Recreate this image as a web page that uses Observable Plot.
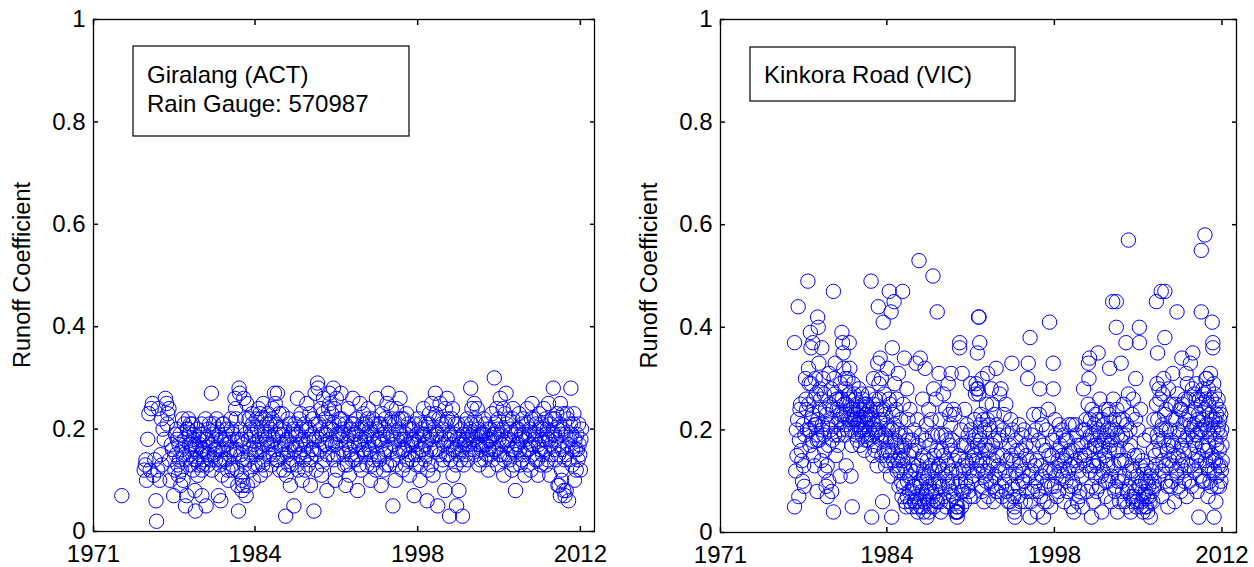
<!DOCTYPE html>
<html>
<head>
<meta charset="utf-8">
<script src="https://cdn.jsdelivr.net/npm/d3@7"></script>
<script src="https://cdn.jsdelivr.net/npm/@observablehq/plot@0.6"></script>
<style>
  html, body { margin: 0; padding: 0; background: #fff; }
  #wrap { position: relative; width: 1254px; height: 567px; overflow: hidden; }
  #wrap svg { position: absolute; top: 0; }
</style>
</head>
<body>
<div id="wrap"></div>
<script>
// ---- tick definitions ----
const xDomain = [1971, 2013.5];
const xTicks = [1971, 1984.7, 1998.5, 2012.3];
const xTickLabels = ["1971", "1984", "1998", "2012"];
const yTicks = [0, 0.2, 0.4, 0.6, 0.8, 1];
const yTickLabels = ["0", "0.2", "0.4", "0.6", "0.8", "1"];
const yTitle = "Runoff Coefficient";
const giralangLabel = ["Giralang (ACT)", "Rain Gauge: 570987"];
const kinkoraLabel = ["Kinkora Road (VIC)"];

// ---- Giralang (ACT) : [decimal year, runoff coefficient] ----
const giralangPoints = [
[1973.4,0.07],
[1975.3,0.12],[1975.4,0.13],[1975.5,0.10],[1975.6,0.18],[1975.7,0.23],[1975.8,0.12],[1975.9,0.24],[1975.45,0.14],
[1976.0,0.25],[1976.1,0.11],[1976.2,0.14],[1976.3,0.06],[1976.35,0.02],[1976.5,0.24],[1976.6,0.10],[1976.7,0.15],[1976.8,0.13],[1976.9,0.20],[1976.45,0.12],[1976.75,0.22],
[1977.0,0.18],[1977.1,0.26],[1977.2,0.25],[1977.3,0.23],[1977.4,0.24],[1977.5,0.10],[1977.6,0.17],[1977.7,0.16],[1977.8,0.07],[1977.9,0.12],[1977.95,0.19],[1977.25,0.21],[1977.45,0.14],
[1978.0,0.15],[1978.1,0.18],[1978.2,0.11],[1978.3,0.14],[1978.4,0.09],[1978.5,0.16],[1978.6,0.10],[1978.7,0.21],[1978.8,0.05],[1978.9,0.07],
[1978.05,0.20],[1978.15,0.13],[1978.25,0.17],[1978.35,0.19],[1978.45,0.12],[1978.55,0.22],[1978.65,0.15],[1978.75,0.18],[1978.85,0.14],[1978.95,0.20],
[1979.0,0.20],[1979.05,0.22],[1979.1,0.19],[1979.2,0.15],[1979.25,0.13],[1979.3,0.17],[1979.4,0.21],[1979.45,0.12],[1979.5,0.18],[1979.6,0.14],[1979.65,0.04],[1979.7,0.16],[1979.8,0.20],[1979.85,0.11],[1979.9,0.13],
[1979.15,0.17],[1979.35,0.16],[1979.55,0.19],[1979.75,0.14],[1979.95,0.18],[1979.22,0.21],[1979.62,0.17],[1979.6,0.08],
[1980.0,0.17],[1980.1,0.15],[1980.15,0.21],[1980.2,0.12],[1980.3,0.19],[1980.35,0.16],[1980.4,0.14],[1980.5,0.22],[1980.55,0.05],[1980.6,0.18],[1980.7,0.13],[1980.75,0.20],[1980.8,0.15],[1980.9,0.17],
[1980.05,0.19],[1980.25,0.16],[1980.45,0.18],[1980.65,0.15],[1980.85,0.21],[1980.95,0.14],[1980.28,0.13],[1980.2,0.07],
[1981.0,0.27],[1981.05,0.12],[1981.1,0.19],[1981.2,0.21],[1981.3,0.16],[1981.35,0.14],[1981.4,0.18],[1981.5,0.20],[1981.6,0.07],[1981.7,0.13],[1981.8,0.06],[1981.9,0.11],
[1981.15,0.17],[1981.25,0.15],[1981.45,0.22],[1981.55,0.16],[1981.65,0.19],[1981.75,0.14],[1981.85,0.18],[1981.95,0.21],
[1982.0,0.16],[1982.1,0.14],[1982.2,0.19],[1982.3,0.17],[1982.4,0.12],[1982.45,0.10],[1982.5,0.18],[1982.6,0.15],[1982.7,0.20],[1982.8,0.13],[1982.9,0.16],
[1982.05,0.21],[1982.15,0.18],[1982.25,0.14],[1982.35,0.20],[1982.55,0.16],[1982.65,0.22],[1982.75,0.12],[1982.85,0.19],[1982.95,0.15],
[1983.0,0.26],[1983.05,0.24],[1983.1,0.22],[1983.2,0.18],[1983.25,0.09],[1983.3,0.04],[1983.35,0.28],[1983.4,0.27],[1983.5,0.15],[1983.55,0.11],[1983.6,0.08],[1983.7,0.17],[1983.75,0.26],[1983.8,0.13],[1983.9,0.19],[1983.95,0.07],
[1983.15,0.16],[1983.45,0.20],[1983.65,0.14],[1983.85,0.22],[1983.18,0.12],[1983.58,0.18],[1983.62,0.10],[1983.7,0.09],
[1984.0,0.25],[1984.05,0.09],[1984.1,0.14],[1984.2,0.22],[1984.25,0.16],[1984.3,0.12],[1984.4,0.19],[1984.5,0.21],[1984.55,0.10],[1984.6,0.17],[1984.7,0.13],[1984.8,0.15],[1984.9,0.20],
[1984.15,0.18],[1984.35,0.15],[1984.45,0.23],[1984.65,0.19],[1984.75,0.16],[1984.85,0.22],[1984.95,0.13],[1984.32,0.20],
[1985.0,0.24],[1985.1,0.18],[1985.15,0.11],[1985.2,0.22],[1985.3,0.16],[1985.4,0.25],[1985.45,0.14],[1985.5,0.19],[1985.6,0.12],[1985.7,0.21],[1985.75,0.17],[1985.8,0.23],[1985.9,0.15],
[1985.05,0.16],[1985.25,0.20],[1985.35,0.13],[1985.55,0.22],[1985.65,0.18],[1985.85,0.19],[1985.95,0.21],[1985.48,0.17],[1985.12,0.23],
[1986.0,0.20],[1986.1,0.13],[1986.2,0.24],[1986.3,0.18],[1986.35,0.27],[1986.4,0.16],[1986.5,0.21],[1986.6,0.27],[1986.65,0.14],[1986.7,0.19],[1986.8,0.12],[1986.9,0.17],
[1986.05,0.17],[1986.15,0.22],[1986.25,0.15],[1986.45,0.19],[1986.55,0.14],[1986.75,0.23],[1986.85,0.20],[1986.95,0.16],[1986.42,0.25],
[1987.0,0.23],[1987.1,0.15],[1987.2,0.20],[1987.3,0.03],[1987.35,0.11],[1987.4,0.18],[1987.5,0.22],[1987.55,0.13],[1987.6,0.16],[1987.7,0.09],[1987.8,0.19],[1987.9,0.14],
[1987.05,0.19],[1987.15,0.12],[1987.25,0.17],[1987.45,0.15],[1987.65,0.21],[1987.75,0.13],[1987.85,0.17],[1987.95,0.20],
[1988.0,0.05],[1988.1,0.21],[1988.2,0.17],[1988.3,0.26],[1988.35,0.12],[1988.4,0.19],[1988.5,0.15],[1988.6,0.23],[1988.7,0.10],[1988.75,0.18],[1988.8,0.14],[1988.9,0.21],
[1988.05,0.16],[1988.15,0.19],[1988.25,0.13],[1988.45,0.22],[1988.55,0.17],[1988.65,0.20],[1988.85,0.16],[1988.95,0.12],
[1989.0,0.17],[1989.1,0.25],[1989.2,0.13],[1989.3,0.20],[1989.4,0.09],[1989.5,0.16],[1989.6,0.22],[1989.7,0.04],[1989.75,0.18],[1989.8,0.27],[1989.9,0.12],
[1989.05,0.20],[1989.15,0.15],[1989.25,0.18],[1989.35,0.23],[1989.45,0.14],[1989.55,0.19],[1989.65,0.16],[1989.85,0.21],[1989.95,0.15],
[1990.0,0.29],[1990.05,0.28],[1990.1,0.21],[1990.2,0.16],[1990.3,0.24],[1990.35,0.11],[1990.4,0.19],[1990.5,0.26],[1990.6,0.14],[1990.65,0.22],[1990.7,0.17],[1990.8,0.08],[1990.9,0.20],
[1990.15,0.18],[1990.25,0.20],[1990.45,0.23],[1990.55,0.17],[1990.75,0.19],[1990.85,0.15],[1990.95,0.24],[1990.42,0.13],
[1991.0,0.27],[1991.05,0.25],[1991.1,0.18],[1991.2,0.23],[1991.3,0.15],[1991.35,0.28],[1991.4,0.21],[1991.5,0.10],[1991.55,0.17],[1991.6,0.26],[1991.7,0.12],[1991.8,0.19],[1991.9,0.22],
[1991.15,0.20],[1991.25,0.17],[1991.45,0.24],[1991.65,0.19],[1991.75,0.15],[1991.85,0.21],[1991.95,0.18],[1991.38,0.14],
[1992.0,0.27],[1992.1,0.16],[1992.2,0.20],[1992.3,0.13],[1992.4,0.09],[1992.5,0.18],[1992.6,0.24],[1992.7,0.11],[1992.8,0.15],[1992.9,0.21],
[1992.05,0.22],[1992.15,0.19],[1992.25,0.15],[1992.35,0.21],[1992.45,0.17],[1992.55,0.13],[1992.65,0.19],[1992.75,0.16],[1992.85,0.20],[1992.95,0.14],
[1993.0,0.26],[1993.1,0.19],[1993.2,0.14],[1993.3,0.22],[1993.4,0.08],[1993.5,0.17],[1993.6,0.25],[1993.7,0.12],[1993.75,0.20],[1993.8,0.16],[1993.9,0.23],
[1993.05,0.21],[1993.15,0.17],[1993.25,0.19],[1993.35,0.15],[1993.45,0.20],[1993.55,0.13],[1993.65,0.18],[1993.85,0.21],[1993.95,0.16],
[1994.0,0.18],[1994.1,0.21],[1994.2,0.13],[1994.3,0.24],[1994.4,0.16],[1994.5,0.10],[1994.6,0.19],[1994.7,0.22],[1994.8,0.14],[1994.9,0.17],
[1994.05,0.15],[1994.15,0.19],[1994.25,0.22],[1994.35,0.17],[1994.45,0.20],[1994.55,0.15],[1994.65,0.13],[1994.75,0.18],[1994.85,0.21],[1994.95,0.12],
[1995.0,0.26],[1995.1,0.15],[1995.2,0.21],[1995.3,0.18],[1995.4,0.09],[1995.5,0.23],[1995.6,0.12],[1995.7,0.20],[1995.8,0.16],[1995.9,0.25],
[1995.05,0.20],[1995.15,0.18],[1995.25,0.14],[1995.35,0.21],[1995.45,0.17],[1995.55,0.19],[1995.65,0.15],[1995.75,0.22],[1995.85,0.13],[1995.95,0.18],
[1996.0,0.27],[1996.1,0.13],[1996.2,0.19],[1996.3,0.22],[1996.4,0.05],[1996.5,0.17],[1996.6,0.10],[1996.7,0.24],[1996.8,0.15],[1996.9,0.20],
[1996.05,0.21],[1996.15,0.16],[1996.25,0.24],[1996.35,0.14],[1996.45,0.19],[1996.55,0.21],[1996.65,0.13],[1996.75,0.18],[1996.85,0.22],[1996.95,0.16],
[1997.0,0.26],[1997.1,0.18],[1997.2,0.12],[1997.3,0.22],[1997.4,0.16],[1997.5,0.19],[1997.6,0.14],[1997.7,0.21],[1997.8,0.11],
[1997.05,0.19],[1997.15,0.22],[1997.25,0.16],[1997.35,0.18],[1997.45,0.13],[1997.55,0.23],[1997.65,0.17],[1997.75,0.15],[1997.85,0.20],[1997.95,0.18],
[1998.0,0.17],[1998.1,0.20],[1998.2,0.07],[1998.3,0.15],[1998.4,0.13],[1998.5,0.22],[1998.6,0.18],[1998.7,0.10],[1998.8,0.16],[1998.9,0.19],
[1998.05,0.14],[1998.15,0.18],[1998.25,0.21],[1998.35,0.17],[1998.45,0.19],[1998.55,0.15],[1998.65,0.21],[1998.75,0.13],[1998.85,0.20],[1998.95,0.16],
[1999.0,0.24],[1999.1,0.14],[1999.2,0.21],[1999.3,0.06],[1999.35,0.12],[1999.4,0.18],[1999.5,0.23],[1999.6,0.16],[1999.7,0.25],[1999.8,0.11],[1999.9,0.20],
[1999.05,0.19],[1999.15,0.17],[1999.25,0.15],[1999.45,0.21],[1999.55,0.19],[1999.65,0.13],[1999.75,0.18],[1999.85,0.22],[1999.95,0.16],
[2000.0,0.27],[2000.1,0.19],[2000.2,0.05],[2000.3,0.22],[2000.35,0.15],[2000.4,0.25],[2000.5,0.13],[2000.6,0.20],[2000.7,0.17],[2000.8,0.08],[2000.9,0.21],
[2000.05,0.23],[2000.15,0.16],[2000.25,0.19],[2000.45,0.18],[2000.55,0.21],[2000.65,0.14],[2000.75,0.19],[2000.85,0.24],[2000.95,0.15],
[2001.0,0.26],[2001.1,0.18],[2001.2,0.03],[2001.3,0.14],[2001.4,0.22],[2001.5,0.11],[2001.6,0.19],[2001.7,0.16],[2001.8,0.05],[2001.9,0.21],
[2001.05,0.22],[2001.15,0.15],[2001.25,0.19],[2001.35,0.17],[2001.45,0.24],[2001.55,0.16],[2001.65,0.21],[2001.75,0.13],[2001.85,0.18],[2001.95,0.15],
[2002.0,0.08],[2002.1,0.17],[2002.2,0.20],[2002.3,0.03],[2002.4,0.13],[2002.5,0.18],[2002.6,0.15],[2002.7,0.22],[2002.8,0.19],[2002.9,0.16],
[2002.05,0.18],[2002.15,0.14],[2002.25,0.16],[2002.35,0.19],[2002.45,0.17],[2002.55,0.21],[2002.65,0.18],[2002.75,0.14],[2002.85,0.17],[2002.95,0.20],
[2003.0,0.28],[2003.1,0.24],[2003.2,0.18],[2003.3,0.25],[2003.4,0.15],[2003.5,0.21],[2003.6,0.17],[2003.7,0.13],[2003.8,0.19],[2003.9,0.16],
[2003.05,0.21],[2003.15,0.19],[2003.25,0.16],[2003.35,0.22],[2003.45,0.18],[2003.55,0.24],[2003.65,0.20],[2003.75,0.17],[2003.85,0.14],[2003.95,0.19],
[2004.0,0.19],[2004.1,0.22],[2004.2,0.14],[2004.3,0.17],[2004.4,0.20],[2004.5,0.12],[2004.6,0.18],[2004.7,0.15],[2004.8,0.23],[2004.9,0.16],
[2004.05,0.17],[2004.15,0.19],[2004.25,0.21],[2004.35,0.15],[2004.45,0.18],[2004.55,0.16],[2004.65,0.20],[2004.75,0.18],[2004.85,0.14],[2004.95,0.19],
[2005.0,0.30],[2005.1,0.21],[2005.2,0.24],[2005.3,0.13],[2005.4,0.18],[2005.5,0.26],[2005.6,0.15],[2005.7,0.20],[2005.8,0.11],[2005.9,0.23],
[2005.05,0.19],[2005.15,0.16],[2005.25,0.20],[2005.35,0.22],[2005.45,0.15],[2005.55,0.19],[2005.65,0.17],[2005.75,0.24],[2005.85,0.14],[2005.95,0.18],
[2006.0,0.27],[2006.1,0.17],[2006.2,0.22],[2006.3,0.14],[2006.4,0.19],[2006.5,0.12],[2006.6,0.24],[2006.7,0.16],[2006.8,0.08],[2006.9,0.20],
[2006.05,0.21],[2006.15,0.15],[2006.25,0.18],[2006.35,0.20],[2006.45,0.16],[2006.55,0.22],[2006.65,0.13],[2006.75,0.19],[2006.85,0.15],[2006.95,0.17],
[2007.0,0.17],[2007.1,0.23],[2007.2,0.13],[2007.3,0.19],[2007.4,0.21],[2007.5,0.15],[2007.6,0.11],[2007.7,0.18],[2007.8,0.24],[2007.9,0.16],
[2007.05,0.20],[2007.15,0.16],[2007.25,0.18],[2007.35,0.14],[2007.45,0.22],[2007.55,0.19],[2007.65,0.16],[2007.75,0.21],[2007.85,0.13],[2007.95,0.19],
[2008.0,0.20],[2008.1,0.12],[2008.2,0.25],[2008.3,0.17],[2008.4,0.22],[2008.5,0.14],[2008.6,0.19],[2008.7,0.11],[2008.8,0.23],[2008.9,0.16],
[2008.05,0.17],[2008.15,0.22],[2008.25,0.15],[2008.35,0.19],[2008.45,0.18],[2008.55,0.21],[2008.65,0.14],[2008.75,0.17],[2008.85,0.20],[2008.95,0.13],
[2009.0,0.21],[2009.1,0.15],[2009.2,0.24],[2009.3,0.18],[2009.4,0.13],[2009.5,0.20],[2009.6,0.25],[2009.7,0.11],[2009.8,0.17],[2009.9,0.22],
[2009.05,0.18],[2009.15,0.20],[2009.25,0.16],[2009.35,0.22],[2009.45,0.19],[2009.55,0.14],[2009.65,0.18],[2009.75,0.21],[2009.85,0.15],[2009.95,0.19],
[2010.0,0.28],[2010.1,0.19],[2010.2,0.14],[2010.3,0.23],[2010.4,0.09],[2010.5,0.17],[2010.6,0.25],[2010.7,0.12],[2010.8,0.20],[2010.9,0.08],
[2010.05,0.16],[2010.15,0.22],[2010.25,0.18],[2010.35,0.20],[2010.45,0.15],[2010.55,0.21],[2010.65,0.19],[2010.75,0.16],[2010.85,0.23],[2010.95,0.14],
[2010.5,0.09],[2010.6,0.07],[2010.7,0.10],
[2011.0,0.07],[2011.1,0.15],[2011.2,0.22],[2011.3,0.06],[2011.4,0.18],[2011.5,0.28],[2011.6,0.13],[2011.7,0.21],[2011.8,0.10],[2011.9,0.16],
[2011.05,0.19],[2011.15,0.23],[2011.25,0.17],[2011.35,0.14],[2011.45,0.21],[2011.55,0.19],[2011.65,0.16],[2011.75,0.23],[2011.85,0.18],[2011.95,0.12],[2011.1,0.08],
[2012.0,0.19],[2012.1,0.14],[2012.2,0.17],[2012.3,0.12],[2012.4,0.20],
[2012.05,0.16],[2012.15,0.21],[2012.25,0.15],[2012.35,0.18]
];

// ---- Kinkora Road (VIC) : [decimal year, runoff coefficient] ----
const kinkoraPoints = [
[1977.1,0.05],[1977.1,0.37],[1977.4,0.44],[1977.2,0.12],[1977.3,0.15],[1977.35,0.22],[1977.5,0.18],[1977.6,0.25],[1977.7,0.14],[1977.75,0.10],[1977.8,0.21],[1977.9,0.09],[1977.45,0.07],[1977.65,0.16],
[1977.25,0.20],[1977.55,0.24],[1977.85,0.13],[1977.95,0.19],
[1978.0,0.30],[1978.1,0.24],[1978.2,0.49],[1978.25,0.32],[1978.3,0.29],[1978.35,0.20],[1978.4,0.39],[1978.45,0.36],[1978.5,0.22],[1978.55,0.18],[1978.6,0.37],[1978.7,0.26],[1978.75,0.13],[1978.8,0.30],[1978.85,0.21],[1978.9,0.19],[1978.95,0.08],
[1978.05,0.26],[1978.15,0.20],[1978.28,0.25],[1978.38,0.17],[1978.48,0.29],[1978.58,0.23],[1978.65,0.15],[1978.78,0.21],[1978.88,0.27],[1978.98,0.18],
[1979.0,0.42],[1979.05,0.40],[1979.1,0.33],[1979.15,0.24],[1979.2,0.28],[1979.3,0.14],[1979.35,0.36],[1979.4,0.21],[1979.5,0.19],[1979.55,0.27],[1979.6,0.12],[1979.7,0.09],[1979.75,0.23],[1979.8,0.07],[1979.9,0.17],[1979.95,0.31],
[1979.02,0.22],[1979.12,0.18],[1979.25,0.26],[1979.38,0.20],[1979.45,0.30],[1979.58,0.16],[1979.65,0.24],[1979.78,0.13],[1979.85,0.21],[1979.92,0.10],
[1980.0,0.25],[1980.1,0.22],[1980.15,0.08],[1980.2,0.18],[1980.3,0.47],[1980.3,0.04],[1980.35,0.30],[1980.4,0.27],[1980.5,0.15],[1980.55,0.21],[1980.6,0.24],[1980.7,0.19],[1980.8,0.26],[1980.85,0.11],[1980.9,0.23],
[1980.05,0.20],[1980.12,0.28],[1980.25,0.24],[1980.38,0.19],[1980.45,0.33],[1980.58,0.26],[1980.65,0.17],[1980.75,0.22],[1980.88,0.29],[1980.95,0.20],
[1981.0,0.39],[1981.05,0.37],[1981.1,0.35],[1981.15,0.32],[1981.2,0.25],[1981.25,0.21],[1981.3,0.28],[1981.35,0.13],[1981.4,0.23],[1981.5,0.30],[1981.55,0.26],[1981.6,0.37],[1981.65,0.32],[1981.7,0.22],[1981.75,0.11],[1981.8,0.20],[1981.9,0.24],[1981.85,0.05],
[1981.02,0.26],[1981.12,0.23],[1981.22,0.19],[1981.28,0.30],[1981.38,0.25],[1981.45,0.20],[1981.52,0.22],[1981.62,0.27],[1981.72,0.24],[1981.82,0.17],[1981.92,0.29],[1981.98,0.22],
[1982.0,0.27],[1982.1,0.22],[1982.15,0.19],[1982.2,0.25],[1982.3,0.23],[1982.35,0.21],[1982.4,0.28],[1982.5,0.17],[1982.55,0.24],[1982.6,0.20],[1982.7,0.26],[1982.8,0.22],[1982.85,0.16],[1982.9,0.25],
[1982.02,0.23],[1982.12,0.26],[1982.22,0.21],[1982.28,0.18],[1982.38,0.24],[1982.45,0.20],[1982.52,0.22],[1982.62,0.27],[1982.68,0.19],[1982.75,0.24],[1982.82,0.20],[1982.92,0.23],[1982.98,0.18],
[1983.0,0.21],[1983.05,0.23],[1983.1,0.19],[1983.2,0.27],[1983.3,0.24],[1983.4,0.49],[1983.45,0.03],[1983.5,0.22],[1983.55,0.15],[1983.6,0.30],[1983.7,0.17],[1983.75,0.26],[1983.8,0.20],[1983.9,0.13],[1983.95,0.33],
[1983.02,0.25],[1983.12,0.22],[1983.18,0.18],[1983.25,0.20],[1983.35,0.23],[1983.48,0.19],[1983.58,0.25],[1983.65,0.21],[1983.72,0.16],[1983.85,0.24],[1983.92,0.19],
[1984.0,0.44],[1984.05,0.29],[1984.1,0.22],[1984.15,0.34],[1984.2,0.18],[1984.25,0.30],[1984.3,0.15],[1984.35,0.06],[1984.4,0.41],[1984.45,0.24],[1984.5,0.27],[1984.55,0.19],[1984.6,0.13],[1984.7,0.21],[1984.75,0.32],[1984.8,0.16],[1984.9,0.47],[1984.95,0.25],
[1984.02,0.20],[1984.08,0.26],[1984.18,0.24],[1984.28,0.19],[1984.38,0.22],[1984.48,0.16],[1984.58,0.23],[1984.65,0.18],[1984.72,0.14],[1984.82,0.20],[1984.88,0.26],[1984.98,0.15],
[1985.0,0.11],[1985.05,0.43],[1985.1,0.03],[1985.15,0.36],[1985.2,0.23],[1985.25,0.14],[1985.3,0.45],[1985.35,0.29],[1985.4,0.18],[1985.5,0.26],[1985.55,0.12],[1985.6,0.20],[1985.65,0.31],[1985.7,0.09],[1985.8,0.15],[1985.85,0.22],[1985.9,0.17],[1985.95,0.07],
[1985.02,0.18],[1985.12,0.20],[1985.18,0.16],[1985.28,0.21],[1985.38,0.13],[1985.45,0.24],[1985.52,0.17],[1985.62,0.14],[1985.72,0.19],[1985.78,0.12],[1985.88,0.10],[1985.98,0.16],
[1986.0,0.47],[1986.05,0.25],[1986.1,0.13],[1986.15,0.34],[1986.2,0.06],[1986.25,0.19],[1986.3,0.05],[1986.35,0.28],[1986.4,0.10],[1986.45,0.22],[1986.5,0.15],[1986.55,0.08],[1986.6,0.24],[1986.7,0.12],[1986.75,0.05],[1986.8,0.18],[1986.9,0.09],[1986.95,0.20],
[1986.02,0.14],[1986.08,0.09],[1986.18,0.17],[1986.28,0.12],[1986.38,0.07],[1986.48,0.18],[1986.58,0.11],[1986.65,0.06],[1986.72,0.16],[1986.82,0.08],[1986.88,0.13],[1986.98,0.06],
[1987.0,0.16],[1987.05,0.06],[1987.1,0.33],[1987.15,0.07],[1987.2,0.22],[1987.25,0.04],[1987.3,0.13],[1987.35,0.53],[1987.4,0.10],[1987.45,0.34],[1987.5,0.05],[1987.55,0.19],[1987.6,0.08],[1987.65,0.26],[1987.7,0.15],[1987.75,0.04],[1987.8,0.11],[1987.85,0.32],[1987.9,0.07],[1987.95,0.21],
[1987.02,0.09],[1987.08,0.12],[1987.18,0.05],[1987.28,0.17],[1987.38,0.06],[1987.48,0.09],[1987.58,0.14],[1987.68,0.05],[1987.72,0.12],[1987.82,0.06],[1987.88,0.18],[1987.98,0.10],
[1988.0,0.03],[1988.05,0.14],[1988.1,0.06],[1988.15,0.24],[1988.2,0.09],[1988.25,0.17],[1988.3,0.05],[1988.35,0.22],[1988.4,0.12],[1988.5,0.50],[1988.5,0.07],[1988.55,0.28],[1988.6,0.15],[1988.7,0.10],[1988.75,0.26],[1988.8,0.06],[1988.85,0.43],[1988.9,0.19],[1988.95,0.13],
[1988.02,0.08],[1988.08,0.11],[1988.18,0.04],[1988.28,0.13],[1988.38,0.08],[1988.45,0.19],[1988.58,0.05],[1988.65,0.12],[1988.72,0.08],[1988.82,0.16],[1988.88,0.06],[1988.98,0.10],
[1989.0,0.31],[1989.05,0.09],[1989.1,0.22],[1989.15,0.04],[1989.2,0.16],[1989.3,0.12],[1989.35,0.27],[1989.4,0.07],[1989.5,0.19],[1989.55,0.24],[1989.6,0.14],[1989.7,0.10],[1989.75,0.29],[1989.8,0.06],[1989.9,0.17],[1989.95,0.21],
[1989.02,0.13],[1989.12,0.06],[1989.18,0.19],[1989.28,0.09],[1989.38,0.15],[1989.48,0.11],[1989.58,0.05],[1989.65,0.18],[1989.72,0.13],[1989.82,0.09],[1989.88,0.23],[1989.98,0.08],
[1990.0,0.31],[1990.05,0.12],[1990.1,0.18],[1990.2,0.07],[1990.3,0.23],[1990.4,0.04],[1990.45,0.05],[1990.5,0.03],[1990.55,0.04],[1990.6,0.15],[1990.7,0.37],[1990.7,0.36],[1990.75,0.10],[1990.8,0.20],[1990.85,0.05],[1990.9,0.31],[1990.95,0.13],
[1990.02,0.16],[1990.12,0.10],[1990.18,0.24],[1990.28,0.14],[1990.35,0.04],[1990.42,0.06],[1990.48,0.04],[1990.52,0.05],[1990.58,0.09],[1990.65,0.12],[1990.82,0.17],[1990.88,0.08],
[1991.0,0.08],[1991.05,0.17],[1991.1,0.06],[1991.2,0.14],[1991.3,0.21],[1991.35,0.09],[1991.4,0.19],[1991.5,0.12],[1991.55,0.07],[1991.6,0.29],[1991.7,0.16],[1991.8,0.11],[1991.9,0.18],[1991.95,0.22],
[1991.02,0.12],[1991.12,0.24],[1991.18,0.10],[1991.28,0.17],[1991.38,0.13],[1991.45,0.08],[1991.62,0.20],[1991.68,0.10],[1991.75,0.14],[1991.85,0.07],[1991.92,0.15],
[1992.0,0.27],[1992.05,0.29],[1992.1,0.28],[1992.15,0.35],[1992.2,0.12],[1992.25,0.42],[1992.3,0.42],[1992.35,0.37],[1992.4,0.18],[1992.45,0.23],[1992.5,0.09],[1992.55,0.30],[1992.6,0.14],[1992.7,0.06],[1992.75,0.20],[1992.8,0.11],[1992.9,0.25],[1992.95,0.16],
[1992.02,0.19],[1992.08,0.14],[1992.18,0.17],[1992.22,0.28],[1992.28,0.27],[1992.32,0.19],[1992.38,0.13],[1992.42,0.21],[1992.48,0.16],[1992.52,0.08],[1992.62,0.22],[1992.68,0.12],[1992.78,0.17],[1992.88,0.10],[1992.98,0.22],
[1993.0,0.31],[1993.05,0.07],[1993.1,0.21],[1993.2,0.13],[1993.3,0.28],[1993.35,0.09],[1993.4,0.17],[1993.5,0.06],[1993.55,0.23],[1993.6,0.11],[1993.7,0.32],[1993.75,0.15],[1993.8,0.08],[1993.9,0.19],
[1993.02,0.12],[1993.12,0.16],[1993.22,0.20],[1993.28,0.10],[1993.38,0.25],[1993.48,0.14],[1993.58,0.18],[1993.68,0.08],[1993.78,0.21],[1993.88,0.13],[1993.98,0.27],
[1994.0,0.12],[1994.1,0.28],[1994.2,0.07],[1994.3,0.20],[1994.4,0.10],[1994.5,0.25],[1994.6,0.14],[1994.7,0.06],[1994.8,0.17],[1994.9,0.22],
[1994.05,0.18],[1994.15,0.09],[1994.25,0.15],[1994.35,0.23],[1994.45,0.12],[1994.55,0.08],[1994.65,0.19],[1994.75,0.11],[1994.85,0.06],[1994.95,0.15],
[1995.0,0.33],[1995.05,0.09],[1995.1,0.14],[1995.2,0.04],[1995.25,0.03],[1995.3,0.18],[1995.4,0.11],[1995.5,0.07],[1995.6,0.21],[1995.7,0.13],[1995.8,0.16],[1995.9,0.10],
[1995.05,0.20],[1995.15,0.07],[1995.22,0.05],[1995.32,0.12],[1995.42,0.16],[1995.52,0.09],[1995.62,0.14],[1995.72,0.06],[1995.82,0.19],[1995.92,0.12],
[1996.0,0.20],[1996.1,0.06],[1996.2,0.15],[1996.3,0.30],[1996.35,0.33],[1996.4,0.11],[1996.5,0.38],[1996.5,0.03],[1996.6,0.19],[1996.7,0.08],[1996.8,0.23],[1996.9,0.13],
[1996.05,0.10],[1996.15,0.17],[1996.25,0.08],[1996.45,0.14],[1996.55,0.06],[1996.65,0.12],[1996.75,0.17],[1996.85,0.09],[1996.95,0.20],
[1997.0,0.10],[1997.1,0.04],[1997.2,0.18],[1997.3,0.28],[1997.35,0.07],[1997.4,0.13],[1997.5,0.21],[1997.6,0.03],[1997.7,0.09],[1997.8,0.16],[1997.9,0.06],
[1997.05,0.14],[1997.15,0.08],[1997.25,0.23],[1997.45,0.11],[1997.55,0.17],[1997.65,0.06],[1997.75,0.12],[1997.85,0.20],[1997.95,0.10],
[1998.0,0.24],[1998.1,0.41],[1998.15,0.12],[1998.2,0.05],[1998.3,0.15],[1998.4,0.33],[1998.4,0.28],[1998.5,0.09],[1998.6,0.19],[1998.7,0.07],[1998.8,0.14],[1998.9,0.21],
[1998.05,0.15],[1998.25,0.09],[1998.35,0.18],[1998.45,0.12],[1998.55,0.22],[1998.65,0.11],[1998.75,0.16],[1998.85,0.08],[1998.95,0.13],
[1999.0,0.17],[1999.1,0.20],[1999.2,0.11],[1999.3,0.06],[1999.4,0.18],[1999.5,0.15],[1999.6,0.08],[1999.7,0.21],[1999.8,0.13],[1999.9,0.05],
[1999.05,0.12],[1999.15,0.15],[1999.25,0.19],[1999.35,0.14],[1999.45,0.10],[1999.55,0.18],[1999.65,0.12],[1999.75,0.16],[1999.85,0.09],[1999.95,0.21],
[2000.0,0.10],[2000.1,0.04],[2000.2,0.14],[2000.3,0.19],[2000.4,0.06],[2000.5,0.12],[2000.6,0.08],[2000.7,0.17],[2000.8,0.05],[2000.9,0.28],
[2000.05,0.16],[2000.15,0.09],[2000.25,0.21],[2000.35,0.13],[2000.45,0.17],[2000.55,0.07],[2000.65,0.15],[2000.75,0.11],[2000.85,0.20],[2000.95,0.14],
[2001.0,0.15],[2001.1,0.22],[2001.2,0.08],[2001.3,0.33],[2001.35,0.30],[2001.4,0.34],[2001.45,0.12],[2001.5,0.19],[2001.55,0.03],[2001.6,0.24],[2001.7,0.14],[2001.75,0.06],[2001.8,0.21],[2001.9,0.11],[2001.95,0.17],
[2001.02,0.20],[2001.12,0.13],[2001.22,0.18],[2001.28,0.25],[2001.38,0.16],[2001.48,0.22],[2001.58,0.09],[2001.65,0.19],[2001.72,0.13],[2001.82,0.17],[2001.88,0.23],[2001.98,0.08],
[2002.0,0.13],[2002.1,0.35],[2002.15,0.20],[2002.2,0.09],[2002.25,0.26],[2002.3,0.16],[2002.4,0.04],[2002.45,0.22],[2002.5,0.12],[2002.6,0.18],[2002.7,0.07],[2002.75,0.24],[2002.8,0.14],[2002.9,0.20],[2002.95,0.10],
[2002.02,0.18],[2002.08,0.22],[2002.18,0.14],[2002.28,0.19],[2002.35,0.11],[2002.48,0.17],[2002.55,0.21],[2002.65,0.15],[2002.72,0.10],[2002.82,0.19],[2002.88,0.13],[2002.98,0.24],
[2003.0,0.23],[2003.05,0.32],[2003.1,0.17],[2003.2,0.06],[2003.3,0.45],[2003.35,0.26],[2003.4,0.13],[2003.5,0.20],[2003.55,0.09],[2003.6,0.45],[2003.6,0.40],[2003.65,0.24],[2003.7,0.04],[2003.75,0.16],[2003.8,0.11],[2003.9,0.22],
[2003.02,0.16],[2003.12,0.20],[2003.18,0.11],[2003.25,0.18],[2003.42,0.22],[2003.48,0.08],[2003.58,0.16],[2003.68,0.19],[2003.72,0.10],[2003.82,0.14],[2003.88,0.06],[2003.98,0.18],
[2004.0,0.33],[2004.05,0.10],[2004.1,0.19],[2004.2,0.25],[2004.25,0.06],[2004.3,0.14],[2004.4,0.37],[2004.45,0.21],[2004.5,0.08],[2004.6,0.57],[2004.6,0.27],[2004.7,0.12],[2004.75,0.17],[2004.8,0.04],[2004.9,0.23],
[2004.02,0.14],[2004.12,0.08],[2004.18,0.22],[2004.28,0.11],[2004.35,0.19],[2004.48,0.05],[2004.55,0.16],[2004.65,0.09],[2004.72,0.20],[2004.82,0.07],[2004.88,0.13],[2004.98,0.06],
[2005.0,0.26],[2005.05,0.07],[2005.1,0.15],[2005.2,0.30],[2005.25,0.05],[2005.3,0.11],[2005.4,0.20],[2005.5,0.40],[2005.5,0.37],[2005.55,0.09],[2005.6,0.24],[2005.7,0.06],[2005.75,0.14],[2005.8,0.04],[2005.9,0.18],
[2005.02,0.12],[2005.12,0.08],[2005.18,0.22],[2005.28,0.06],[2005.35,0.15],[2005.45,0.09],[2005.58,0.13],[2005.65,0.05],[2005.72,0.10],[2005.82,0.07],[2005.88,0.12],[2005.98,0.05],
[2006.0,0.08],[2006.05,0.13],[2006.1,0.05],[2006.2,0.10],[2006.3,0.07],[2006.35,0.19],[2006.4,0.03],[2006.5,0.12],[2006.6,0.06],[2006.7,0.22],[2006.75,0.09],[2006.8,0.15],[2006.9,0.45],[2006.95,0.29],
[2006.02,0.10],[2006.12,0.07],[2006.18,0.04],[2006.28,0.09],[2006.38,0.06],[2006.45,0.11],[2006.55,0.08],[2006.65,0.16],[2006.72,0.10],[2006.85,0.13],[2006.92,0.25],[2006.98,0.19],
[2007.0,0.35],[2007.05,0.18],[2007.1,0.11],[2007.2,0.26],[2007.3,0.47],[2007.35,0.07],[2007.4,0.21],[2007.45,0.14],[2007.5,0.30],[2007.6,0.47],[2007.6,0.38],[2007.65,0.10],[2007.7,0.24],[2007.8,0.16],[2007.85,0.05],[2007.9,0.28],
[2007.02,0.22],[2007.12,0.28],[2007.18,0.16],[2007.28,0.20],[2007.38,0.12],[2007.42,0.27],[2007.52,0.18],[2007.58,0.23],[2007.68,0.13],[2007.72,0.20],[2007.82,0.09],[2007.92,0.17],
[2008.0,0.20],[2008.05,0.09],[2008.1,0.25],[2008.2,0.13],[2008.25,0.31],[2008.3,0.17],[2008.4,0.06],[2008.5,0.22],[2008.6,0.43],[2008.6,0.11],[2008.65,0.27],[2008.7,0.15],[2008.8,0.19],[2008.9,0.08],[2008.95,0.24],
[2008.02,0.14],[2008.12,0.18],[2008.18,0.10],[2008.28,0.22],[2008.35,0.15],[2008.45,0.25],[2008.55,0.12],[2008.68,0.20],[2008.75,0.09],[2008.85,0.24],[2008.92,0.13],[2008.98,0.17],
[2009.0,0.34],[2009.05,0.14],[2009.1,0.21],[2009.2,0.10],[2009.25,0.26],[2009.3,0.18],[2009.4,0.07],[2009.45,0.29],[2009.5,0.13],[2009.6,0.23],[2009.65,0.16],[2009.7,0.33],[2009.8,0.09],[2009.85,0.20],[2009.9,0.35],
[2009.02,0.25],[2009.12,0.16],[2009.18,0.12],[2009.28,0.22],[2009.35,0.31],[2009.48,0.19],[2009.55,0.26],[2009.62,0.10],[2009.72,0.21],[2009.78,0.13],[2009.88,0.28],[2009.95,0.18],
[2010.0,0.27],[2010.05,0.12],[2010.1,0.24],[2010.15,0.19],[2010.2,0.29],[2010.25,0.08],[2010.3,0.22],[2010.35,0.15],[2010.4,0.03],[2010.45,0.26],[2010.5,0.11],[2010.6,0.55],[2010.6,0.43],[2010.65,0.20],[2010.7,0.17],[2010.75,0.28],[2010.8,0.10],[2010.9,0.58],[2010.9,0.24],[2010.95,0.14],
[2010.02,0.21],[2010.08,0.17],[2010.18,0.26],[2010.22,0.14],[2010.28,0.19],[2010.38,0.23],[2010.42,0.13],[2010.52,0.20],[2010.58,0.25],[2010.68,0.10],[2010.72,0.22],[2010.82,0.27],[2010.88,0.16],[2010.98,0.30],
[2011.0,0.21],[2011.05,0.30],[2011.1,0.16],[2011.15,0.07],[2011.2,0.25],[2011.25,0.12],[2011.3,0.19],[2011.35,0.31],[2011.4,0.09],[2011.5,0.41],[2011.5,0.22],[2011.55,0.37],[2011.55,0.36],[2011.6,0.14],[2011.65,0.03],[2011.7,0.27],[2011.75,0.18],[2011.8,0.06],[2011.85,0.23],[2011.9,0.11],[2011.95,0.20],
[2011.02,0.26],[2011.08,0.13],[2011.12,0.20],[2011.18,0.28],[2011.22,0.17],[2011.28,0.23],[2011.32,0.10],[2011.38,0.21],[2011.42,0.26],[2011.48,0.15],[2011.58,0.20],[2011.62,0.29],[2011.68,0.12],[2011.72,0.22],[2011.78,0.14],[2011.82,0.25],[2011.88,0.17],[2011.92,0.09],[2011.98,0.26],
[2012.0,0.13],[2012.05,0.24],[2012.1,0.09],[2012.15,0.19],[2012.2,0.23],[2012.25,0.12],[2012.3,0.17],
[2012.02,0.21],[2012.08,0.16],[2012.12,0.22],[2012.18,0.13],[2012.22,0.10],[2012.28,0.20],[2012.32,0.14]
];

const FONT = "'Liberation Sans', Arial, Helvetica, sans-serif";
const BLUE = "#0000ff";

function panel(points, cfg) {
  const svg = Plot.plot({
    width: cfg.width,
    height: 567,
    marginLeft: cfg.ml,
    marginRight: cfg.mr,
    marginTop: 19,
    marginBottom: cfg.mb,
    style: {fontFamily: FONT, fontSize: "24px", background: "white", color: "black", overflow: "visible"},
    x: {domain: xDomain},
    y: {domain: [0, 1]},
    marks: [
      Plot.dot(points, {x: d => d[0], y: d => d[1], r: 7.2, stroke: BLUE, strokeWidth: 1, fill: "none"}),
      Plot.frame({stroke: "black", strokeWidth: 1.3}),
      // inward ticks
      Plot.axisY(yTicks, {anchor: "left", tickSize: -5, fill: "none", label: null, strokeWidth: 1.5}),
      Plot.axisY(yTicks, {anchor: "right", tickSize: -5, fill: "none", label: null, strokeWidth: 1.5}),
      Plot.axisX(xTicks, {anchor: "bottom", tickSize: -5, fill: "none", label: null, strokeWidth: 1.5}),
      Plot.axisX(xTicks, {anchor: "top", tickSize: -5, fill: "none", label: null, strokeWidth: 1.5}),
      // tick labels
      Plot.axisY(yTicks, {anchor: "left", tickSize: 0, tickPadding: 8, label: null, fontSize: 24,
        tickFormat: d => yTickLabels[yTicks.indexOf(d)]}),
      Plot.axisX(xTicks, {anchor: "bottom", tickSize: 0, tickPadding: 13, label: null, fontSize: 24,
        tickFormat: d => xTickLabels[xTicks.indexOf(d)]})
    ]
  });
  const s = d3.select(svg);
  s.style("left", cfg.left + "px");
  // y-axis title
  s.append("text")
    .attr("transform", `translate(${cfg.titleX},${(19 + 567 - cfg.mb) / 2}) rotate(-90)`)
    .attr("text-anchor", "middle")
    .attr("font-family", FONT).attr("font-size", 23.5).attr("fill", "black")
    .text(yTitle);
  // annotation box
  const b = cfg.box;
  s.append("rect").attr("x", b.x).attr("y", b.y).attr("width", b.w).attr("height", b.h)
    .attr("fill", "white").attr("stroke", "black").attr("stroke-width", 1.2);
  b.lines.forEach((t, i) => {
    s.append("text").attr("x", b.tx).attr("y", b.ty + i * 29)
      .attr("text-anchor", "start")
      .attr("font-family", FONT).attr("font-size", 24).attr("fill", "black").text(t);
  });
  return svg;
}

const wrap = document.getElementById("wrap");
wrap.appendChild(panel(giralangPoints, {
  left: 0, width: 620, ml: 93, mr: 26, mb: 36, titleX: 30,
  box: {x: 133, y: 46, w: 276, h: 90, tx: 147, ty: 83, lines: giralangLabel}
}));
wrap.appendChild(panel(kinkoraPoints, {
  left: 620, width: 634, ml: 100, mr: 18, mb: 35, titleX: 37,
  box: {x: 130, y: 47, w: 265, h: 54, tx: 144, ty: 83, lines: kinkoraLabel}
}));
</script>
</body>
</html>
